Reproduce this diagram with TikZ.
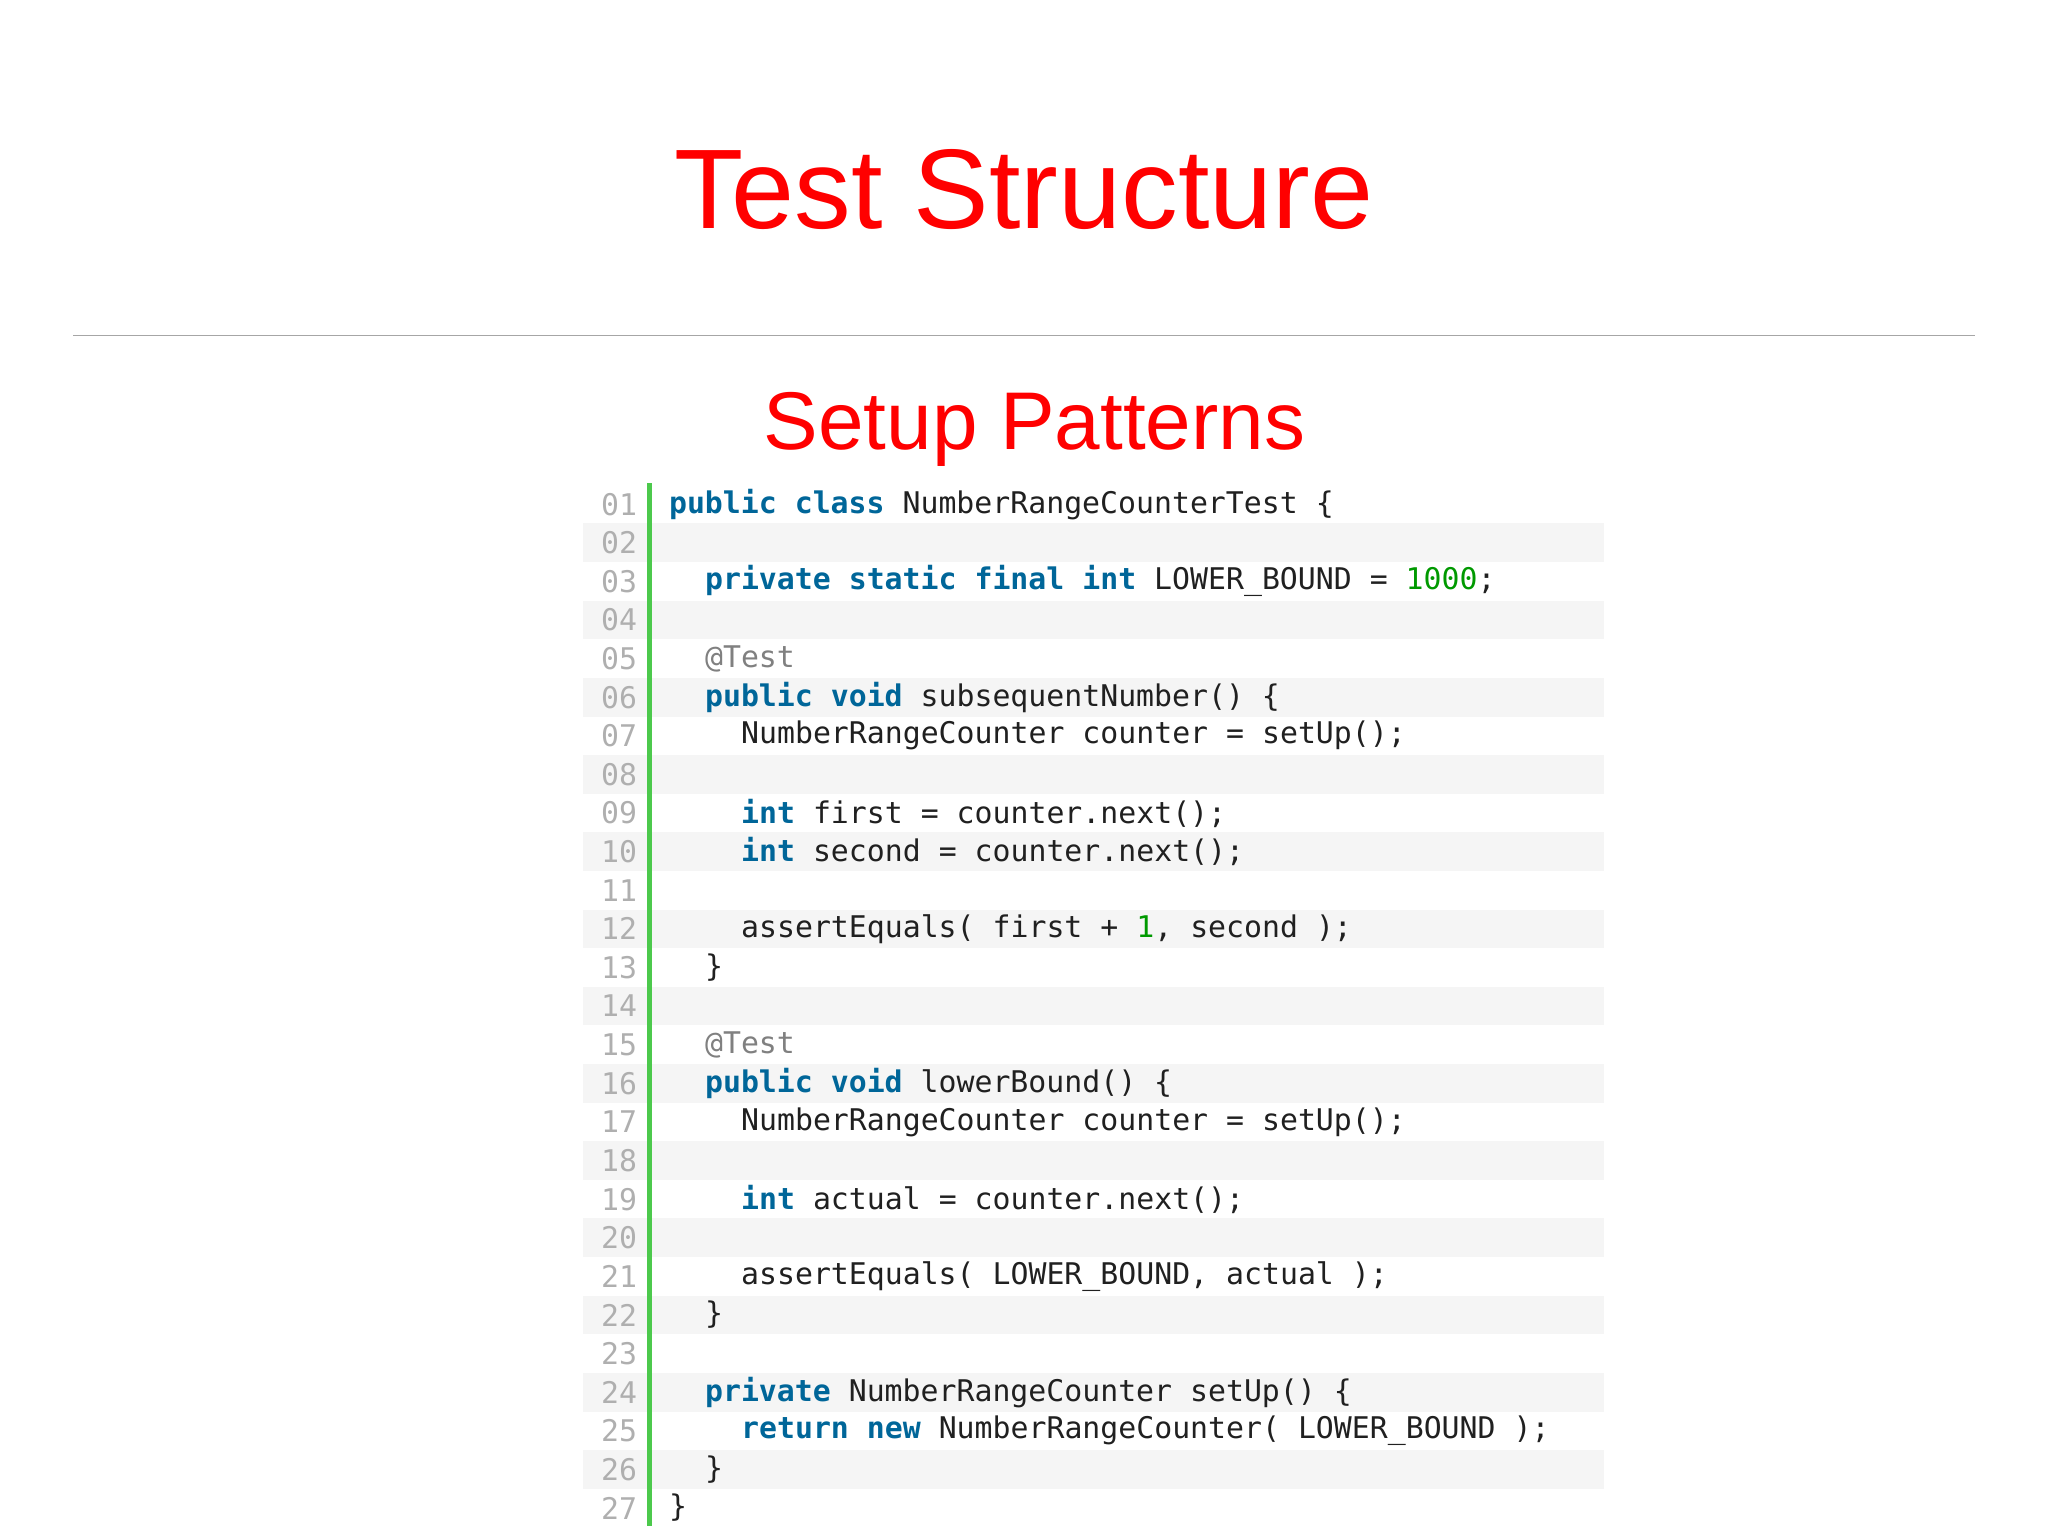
\documentclass[tikz,border=0pt]{standalone}
\usepackage{fontspec}
\setmainfont{Liberation Sans}
\setmonofont{DejaVu Sans Mono}
\definecolor{kw}{HTML}{006699}
\definecolor{num}{HTML}{009900}
\definecolor{ann}{HTML}{808080}
\definecolor{lno}{HTML}{AFAFAF}
\definecolor{codetxt}{HTML}{202020}
\newcommand{\kw}[1]{\textbf{\color{kw}#1}}
\newcommand{\nm}[1]{{\color{num}#1}}
\begin{document}
\begin{tikzpicture}[x=0.03cm,y=-0.03cm,
  codeln/.style={anchor=west,inner sep=0pt,font=\ttfamily\fontsize{19.5}{20}\selectfont,text=codetxt},
  lnum/.style={anchor=east,inner sep=0pt,font=\ttfamily\fontsize{19.5}{20}\selectfont,text=lno}]
\useasboundingbox (0,0) rectangle (1568,1175);
\node[text=red,font=\fontsize{74}{76}\selectfont] (title) at (784,145) {Test Structure};
\draw[gray!70,line width=0.8pt] (56,257) -- (1512,257);
\node[text=red,font=\fontsize{53.5}{56}\selectfont] (sub) at (792,329) {Setup Patterns};
\foreach \i in {2,4,...,26} {
  \fill[black!4] (446,{386+(\i-1)*29.56-14.8}) rectangle (1228,{386+(\i-1)*29.56+14.8});
}
\foreach \i in {1,...,27} {
  \pgfmathsetmacro{\yy}{386+(\i-1)*29.56}
  \node[lnum] (n\i) at (488,\yy) {\ifnum\i<10 0\fi\i};
}
\fill[green!70!black!70] (495,370) rectangle (499.5,1168);
\def\L#1#2#3{\node[codeln] (c#1) at ({512+#2*13.8},{386+(#1-1)*29.56}) {#3};}
\L{1}{0}{\kw{public} \kw{class} NumberRangeCounterTest \{}
\L{3}{2}{\kw{private} \kw{static} \kw{final} \kw{int} LOWER\_BOUND = \nm{1000};}
\L{5}{2}{{\color{ann}@Test}}
\L{6}{2}{\kw{public} \kw{void} subsequentNumber() \{}
\L{7}{4}{NumberRangeCounter counter = setUp();}
\L{9}{4}{\kw{int} first = counter.next();}
\L{10}{4}{\kw{int} second = counter.next();}
\L{12}{4}{assertEquals( first + \nm{1}, second );}
\L{13}{2}{\}}
\L{15}{2}{{\color{ann}@Test}}
\L{16}{2}{\kw{public} \kw{void} lowerBound() \{}
\L{17}{4}{NumberRangeCounter counter = setUp();}
\L{19}{4}{\kw{int} actual = counter.next();}
\L{21}{4}{assertEquals( LOWER\_BOUND, actual );}
\L{22}{2}{\}}
\L{24}{2}{\kw{private} NumberRangeCounter setUp() \{}
\L{25}{4}{\kw{return} \kw{new} NumberRangeCounter( LOWER\_BOUND );}
\L{26}{2}{\}}
\L{27}{0}{\}}
\end{tikzpicture}
\end{document}
